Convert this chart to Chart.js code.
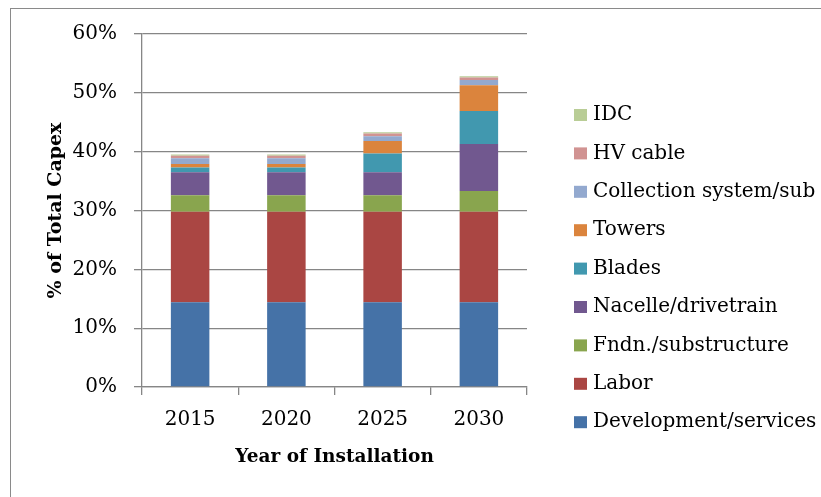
<!DOCTYPE html>
<html>
<head>
<meta charset="utf-8">
<script src="https://cdn.jsdelivr.net/npm/chart.js@4"></script>
<style>
  html, body { margin: 0; padding: 0; background: #fff; overflow: hidden; }
  #wrap { position: relative; width: 821px; height: 497px; overflow: hidden; }
  #frame { position: absolute; left: 10px; top: 8px; width: 1000px; height: 1000px; border: 1px solid #8a8a8a; }
  canvas { position: absolute; left: 0; top: 0; }
</style>
</head>
<body>
<div id="wrap">
  <div id="frame"></div>
  <canvas id="capexChart" width="821" height="497"></canvas>
</div>
<script>
const years = ['2015', '2020', '2025', '2030'];

const development = [14.4, 14.4, 14.4, 14.4];
const labor = [15.4, 15.4, 15.4, 15.4];
const foundation = [2.8, 2.8, 2.8, 3.5];
const nacelle = [3.9, 3.9, 3.9, 8.0];
const blades = [0.8, 0.8, 3.2, 5.6];
const towers = [0.6, 0.6, 2.1, 4.4];
const collection = [1.0, 1.0, 0.8, 0.9];
const hvCable = [0.4, 0.4, 0.5, 0.4];
const idc = [0.2, 0.2, 0.2, 0.2];

const yTicks = [0, 10, 20, 30, 40, 50, 60];

const FONT = 'DejaVu Serif';

const series = [
  ['Development/services', development, '#4572A7'],
  ['Labor', labor, '#AA4643'],
  ['Fndn./substructure', foundation, '#89A54E'],
  ['Nacelle/drivetrain', nacelle, '#71588F'],
  ['Blades', blades, '#4198AF'],
  ['Towers', towers, '#DB843D'],
  ['Collection system/sub', collection, '#93A9CF'],
  ['HV cable', hvCable, '#D19392'],
  ['IDC', idc, '#B9CD96']
];

// legend drawn on the right, top item = last dataset
const sideLegend = {
  id: 'sideLegend',
  afterDraw(chart) {
    const ctx = chart.ctx;
    const sets = chart.data.datasets.slice().reverse();
    ctx.save();
    ctx.font = '20px "' + FONT + '"';
    ctx.textBaseline = 'middle';
    ctx.textAlign = 'left';
    sets.forEach((ds, k) => {
      const y = 115 + k * 38.4;
      ctx.fillStyle = ds.backgroundColor;
      ctx.fillRect(574, y - 6, 13, 12);
      ctx.fillStyle = '#000';
      ctx.fillText(ds.label, 593, y);
    });
    ctx.restore();
  }
};

const ctx = document.getElementById('capexChart').getContext('2d');
new Chart(ctx, {
  type: 'bar',
  data: {
    labels: years,
    datasets: series.map(([label, values, color]) => ({
      label: label,
      data: values,
      backgroundColor: color,
      borderWidth: 0,
      categoryPercentage: 1,
      barPercentage: 0.4
    }))
  },
  options: {
    responsive: false,
    animation: false,
    layout: { padding: { left: 0, top: 34, right: 294, bottom: 0 } },
    plugins: {
      legend: { display: false },
      tooltip: { enabled: false }
    },
    scales: {
      x: {
        stacked: true,
        afterFit: (scale) => { scale.height = 110; },
        grid: {
          drawOnChartArea: false,
          offset: true,
          tickLength: 8,
          color: '#868686',
          lineWidth: 1.3
        },
        border: { color: '#868686', width: 1.3 },
        ticks: { color: '#000', padding: 13, font: { family: FONT, size: 20 } },
        title: {
          display: true,
          text: 'Year of Installation',
          color: '#000',
          font: { family: FONT, size: 18.5, weight: 'bold' },
          padding: { top: 0, bottom: 29 }
        }
      },
      y: {
        stacked: true,
        min: 0,
        max: 60,
        afterFit: (scale) => { scale.width = 142; },
        afterBuildTicks: (scale) => { scale.ticks = yTicks.map(v => ({ value: v })); },
        grid: { color: '#868686', lineWidth: 1.3, tickLength: 8 },
        border: { color: '#868686', width: 1.3 },
        ticks: {
          color: '#000',
          padding: 17,
          font: { family: FONT, size: 20 },
          callback: (v) => v + '%'
        },
        title: {
          display: true,
          text: '% of Total Capex',
          color: '#000',
          font: { family: FONT, size: 19, weight: 'bold' },
          padding: { top: 45, bottom: 0 }
        }
      }
    }
  },
  plugins: [sideLegend]
});
</script>
</body>
</html>
